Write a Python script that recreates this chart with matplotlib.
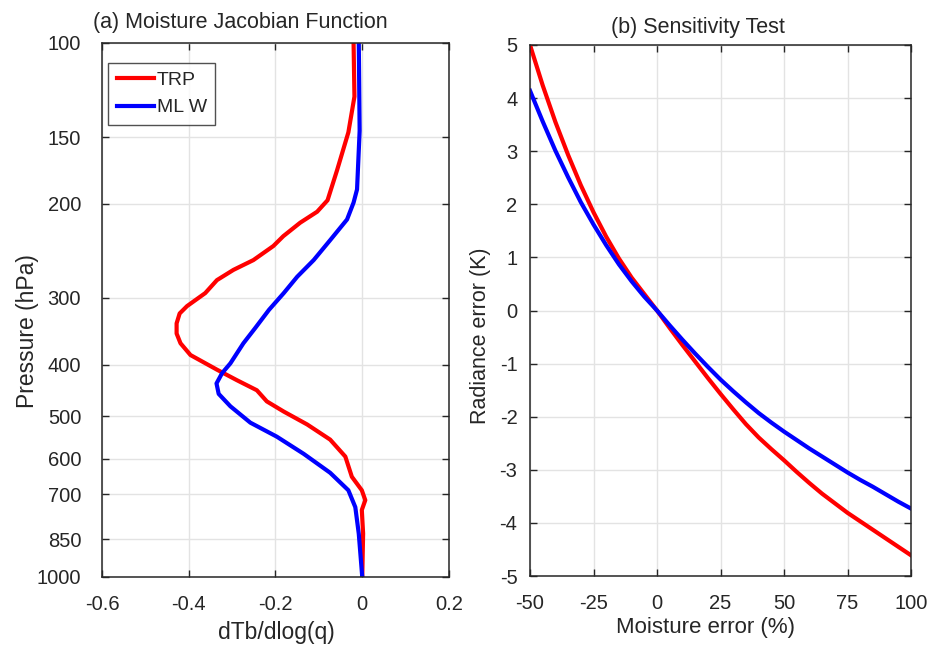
import numpy as np
import matplotlib
matplotlib.use('Agg')
import matplotlib.pyplot as plt

plt.rcParams['font.family'] = ['Liberation Sans', 'DejaVu Sans']
plt.rcParams['axes.unicode_minus'] = False

# (a) Moisture Jacobian profiles
trp_p = [100, 126, 147, 173, 197, 207, 217, 230, 240, 255, 266, 278, 294, 311, 321, 335,
         350, 365, 384, 409, 428, 447, 469, 490, 518, 553, 595, 649, 688, 718, 749, 829, 1000]
trp_j = [-0.020, -0.018, -0.032, -0.058, -0.080, -0.104, -0.143, -0.182, -0.205, -0.251,
         -0.297, -0.335, -0.362, -0.404, -0.421, -0.428, -0.428, -0.419, -0.396, -0.335,
         -0.289, -0.243, -0.220, -0.181, -0.127, -0.074, -0.039, -0.024, -0.001, 0.007,
         -0.001, 0.002, 0.0]
mlw_p = [100, 146, 188, 199, 214, 234, 255, 274, 294, 316, 342, 365, 398, 415, 434, 454,
         479, 514, 546, 588, 638, 688, 740, 830, 1000]
mlw_j = [-0.008, -0.006, -0.012, -0.020, -0.035, -0.074, -0.112, -0.150, -0.181, -0.215,
         -0.247, -0.274, -0.304, -0.323, -0.336, -0.331, -0.304, -0.258, -0.197, -0.135,
         -0.074, -0.032, -0.016, -0.008, 0.0]

# (b) Sensitivity test
moist_err = [-50, -45, -40, -35, -30, -25, -20, -15, -10, -5, 0, 5, 10, 15, 20, 25, 30, 35,
             40, 45, 50, 55, 60, 65, 70, 75, 80, 85, 90, 95, 100]
trp_rad = [5.00, 4.24, 3.55, 2.93, 2.36, 1.85, 1.39, 0.98, 0.62, 0.31, 0.0, -0.33, -0.65,
           -0.96, -1.27, -1.57, -1.86, -2.14, -2.39, -2.61, -2.82, -3.04, -3.25, -3.45,
           -3.63, -3.81, -3.97, -4.13, -4.29, -4.45, -4.61]
mlw_rad = [4.14, 3.56, 3.01, 2.51, 2.04, 1.62, 1.23, 0.87, 0.55, 0.26, 0.0, -0.28, -0.55,
           -0.81, -1.06, -1.30, -1.52, -1.73, -1.93, -2.11, -2.28, -2.44, -2.60, -2.75,
           -2.90, -3.05, -3.19, -3.32, -3.46, -3.60, -3.73]

p_ticks = [100, 150, 200, 300, 400, 500, 600, 700, 850, 1000]

dark = '#262626'
gridc = '#e3e3e3'

fig = plt.figure(figsize=(9.35, 6.51), dpi=100)
ax1 = fig.add_axes([102/935, 1-577/651, 347/935, 534/651])
ax2 = fig.add_axes([530/935, 1-576/651, 381/935, 531/651])

for ax in (ax1, ax2):
    ax.grid(True, color=gridc, lw=1.0)
    ax.set_axisbelow(True)
    for s in ax.spines.values():
        s.set_color(dark)
        s.set_linewidth(1.1)
    ax.tick_params(direction='in', top=True, right=True, length=5, width=1.0,
                   color=dark, labelcolor=dark, labelsize=14.5)

# panel a
ax1.plot(trp_j, trp_p, color='#ff0000', lw=3.0, label='TRP')
ax1.plot(mlw_j, mlw_p, color='#0000ff', lw=3.0, label='ML W')
ax1.set_yscale('log')
ax1.set_ylim(1000, 100)
ax1.set_xlim(-0.6, 0.2)
ax1.set_yticks(p_ticks)
ax1.set_yticklabels([str(p) for p in p_ticks])
ax1.minorticks_off()
ax1.set_xticks([-0.6, -0.4, -0.2, 0, 0.2])
ax1.set_xticklabels(['-0.6', '-0.4', '-0.2', '0', '0.2'])
ax1.tick_params(axis='y', pad=15)
ax1.tick_params(axis='x', pad=13)
leg = ax1.legend(loc='upper left', bbox_to_anchor=(0.017, 0.963), borderaxespad=0,
                 fontsize=14, frameon=True, fancybox=False, handlelength=1.9,
                 handletextpad=0.15, labelspacing=0.5, borderpad=0.45)
leg.get_frame().set_edgecolor(dark)
leg.get_frame().set_linewidth(1.0)
for t in leg.get_texts():
    t.set_color(dark)
ax1.text(0.40, 1.018, '(a) Moisture Jacobian Function', transform=ax1.transAxes,
         ha='center', va='bottom', fontsize=15.5, color=dark)

# panel b
ax2.plot(moist_err, trp_rad, color='#ff0000', lw=3.0)
ax2.plot(moist_err, mlw_rad, color='#0000ff', lw=3.0)
ax2.set_xlim(-50, 100)
ax2.set_ylim(-5, 5)
ax2.set_xticks([-50, -25, 0, 25, 50, 75, 100])
ax2.set_yticks(range(-5, 6))
ax2.set_yticklabels([str(v) for v in range(-5, 6)])
ax2.tick_params(axis='y', pad=9)
ax2.tick_params(axis='x', pad=13)
ax2.text(0.441, 1.013, '(b) Sensitivity Test', transform=ax2.transAxes,
         ha='center', va='bottom', fontsize=15.5, color=dark)

fig.text(28/935, 1-331/651, 'Pressure (hPa)', rotation=90, ha='center', va='center',
         fontsize=16.5, color=dark)
fig.text(276/935, 1-633/651, 'dTb/dlog(q)', ha='center', va='center',
         fontsize=16.5, color=dark)
fig.text(481/935, 1-336/651, 'Radiance error (K)', rotation=90, ha='center', va='center',
         fontsize=15.5, color=dark)
fig.text(706/935, 1-627/651, 'Moisture error (%)', ha='center', va='center',
         fontsize=16, color=dark)

fig.savefig('out.png', dpi=100, facecolor='white')
